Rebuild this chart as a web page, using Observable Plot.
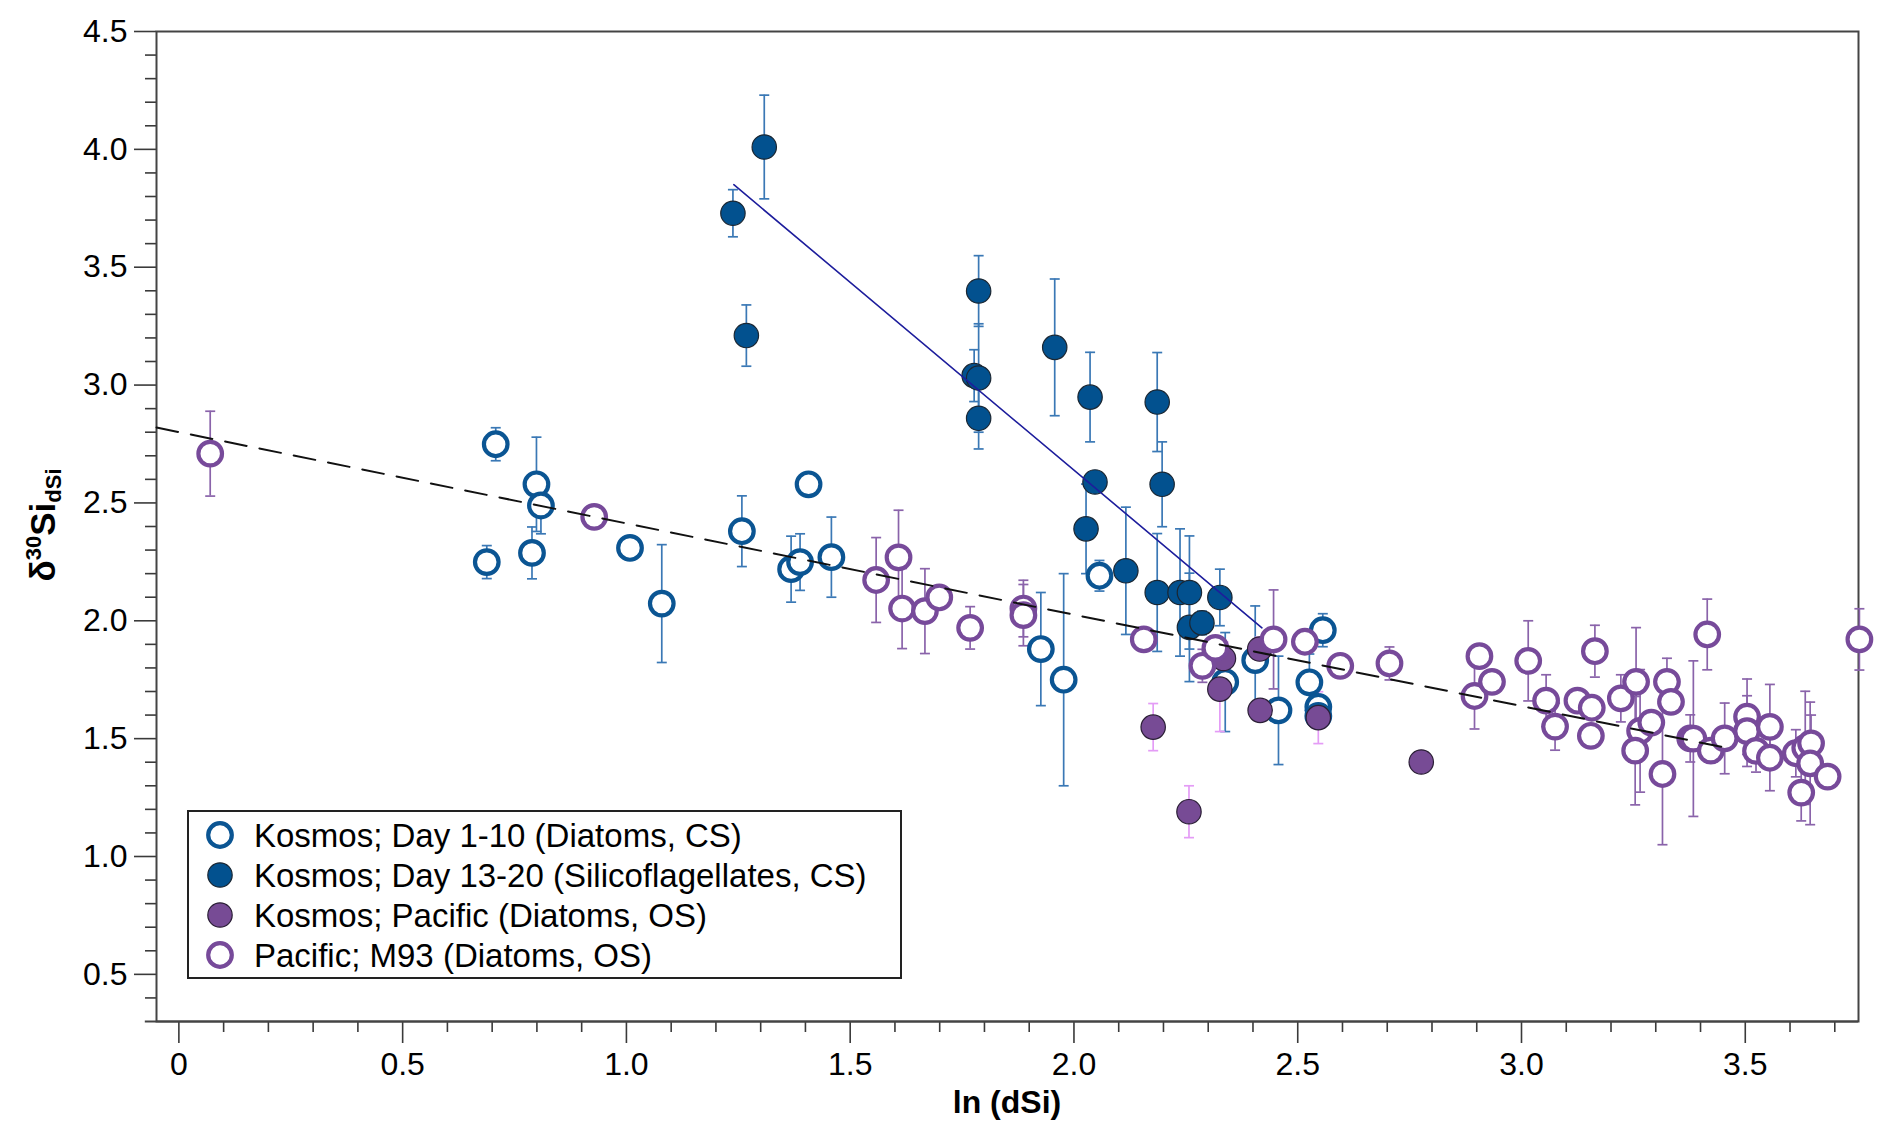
<!DOCTYPE html>
<html><head><meta charset="utf-8">
<script src="https://cdn.jsdelivr.net/npm/d3@7"></script>
<script src="https://cdn.jsdelivr.net/npm/@observablehq/plot@0.6"></script>
<style>
html,body{margin:0;padding:0;background:#fff;}
#chart{position:relative;width:1892px;height:1140px;}
</style></head><body><div id="chart"></div>
<script>
// ---- Data ----
const seriesNames = [
  "Kosmos; Day 1-10 (Diatoms, CS)",
  "Kosmos; Day 13-20 (Silicoflagellates, CS)",
  "Kosmos; Pacific (Diatoms, OS)",
  "Pacific; M93 (Diatoms, OS)"
];

// Kosmos; Day 1-10 (open blue)
const day1X = [0.688,0.708,0.789,0.799,0.809,1.008,1.079,1.258,1.368,1.388,1.407,1.458,1.926,1.977,2.057,2.338,2.405,2.457,2.526,2.546,2.546,2.556];
const day1Y = [2.249,2.749,2.288,2.579,2.489,2.309,2.073,2.380,2.219,2.249,2.579,2.270,1.880,1.750,2.191,1.740,1.833,1.620,1.739,1.635,1.596,1.960];
const day1E = [0.07,0.07,0.11,0.20,0.12,0.05,0.25,0.15,0.14,0.12,0.04,0.17,0.24,0.45,0.065,0.21,0.23,0.23,0.12,0.05,0.05,0.07];

// Kosmos; Day 13-20 (filled blue)
const day13X = [1.238,1.268,1.308,1.777,1.787,1.787,1.787,1.957,2.027,2.036,2.047,2.116,2.186,2.186,2.197,2.237,2.258,2.258,2.286,2.326];
const day13Y = [3.729,3.210,4.010,3.040,3.399,3.030,2.859,3.160,2.390,2.949,2.589,2.212,2.928,2.120,2.579,2.120,2.120,1.972,1.991,2.099];
const day13E = [0.10,0.13,0.22,0.11,0.15,0.23,0.13,0.29,0.19,0.19,0.04,0.27,0.21,0.25,0.18,0.27,0.24,0.23,0.05,0.12];

// Kosmos; Pacific (filled purple)
const kpacX = [2.177,2.257,2.326,2.334,2.415,2.416,2.546,2.776];
const kpacY = [1.549,1.190,1.710,1.840,1.880,1.620,1.589,1.401];
const kpacE = [0.10,0.11,0.18,0.07,0.05,0,0.11,0];

// Pacific; M93 (open purple)
const m93X = [0.070,0.928,1.558,1.608,1.616,1.667,1.699,1.768,1.887,1.887,2.156,2.287,2.316,2.446,2.516,2.595,2.705,
  2.895,2.906,2.934,3.015,3.055,3.075,3.125,3.157,3.155,3.164,3.222,3.256,3.265,3.254,3.290,3.315,3.325,3.334,
  3.377,3.384,3.415,3.423,3.454,3.504,3.504,3.524,3.555,3.555,3.613,3.625,3.634,3.647,3.645,3.684,3.755];
const m93Y = [2.709,2.441,2.173,2.269,2.052,2.041,2.099,1.970,2.052,2.024,1.921,1.809,1.885,1.921,1.911,1.809,1.819,
  1.681,1.850,1.741,1.830,1.661,1.551,1.661,1.631,1.512,1.871,1.671,1.741,1.533,1.449,1.568,1.350,1.741,1.656,
  1.501,1.500,1.942,1.449,1.501,1.593,1.532,1.448,1.550,1.419,1.438,1.271,1.461,1.480,1.395,1.339,1.921];
const m93E = [0.18,0,0.18,0.20,0.17,0.18,0,0.09,0.12,0.13,0,0.07,0,0.21,0,0,0.07,
  0.14,0,0,0.17,0.11,0.10,0,0,0,0.11,0.10,0.23,0.26,0.23,0,0.30,0.10,0,
  0.10,0.33,0.15,0,0.15,0.16,0.15,0.09,0.18,0.14,0.10,0.12,0.24,0.12,0.26,0,0.13];

// Regression lines
const fitBlueX = [1.24, 2.42];
const fitBlueY = [3.85, 1.97];
const fitDashX = [-0.05, 3.46];
const fitDashY = [2.82, 1.46];

// Axis ticks
const xMajor = [0, 0.5, 1.0, 1.5, 2.0, 2.5, 3.0, 3.5];
const yMajor = [0.5, 1.0, 1.5, 2.0, 2.5, 3.0, 3.5, 4.0, 4.5];
const xDomain = [-0.05, 3.753];
const yDomain = [0.3, 4.5];
const xAxisStart = -0.075;

// ---- Build tables ----
const table = (X, Y, E) => X.map((x, i) => ({x, y: Y[i], e: E[i]}));
const day1 = table(day1X, day1Y, day1E);
const day13 = table(day13X, day13Y, day13E);
const kpac = table(kpacX, kpacY, kpacE);
const m93 = table(m93X, m93Y, m93E);
const fitBlue = fitBlueX.map((x, i) => ({x, y: fitBlueY[i]}));
const fitDash = fitDashX.map((x, i) => ({x, y: fitDashY[i]}));

const xMinor = d3.range(1, 38).map(i => i / 10).filter(v => Math.abs(v * 2 - Math.round(v * 2)) > 1e-6);
const yMinor = d3.range(4, 45).map(i => i / 10).filter(v => Math.abs(v * 2 - Math.round(v * 2)) > 1e-6);

const FONT = "'Liberation Sans', Arial, Helvetica, sans-serif";
const fmt = d => d === 0 ? "0" : d.toFixed(1);

const styles = [
  {data: day1, stroke: "#0b5593", fill: "white", sw: 4.2, r: 11.8, err: "#3a78b5"},
  {data: day13, stroke: "#1b2733", fill: "#02518f", sw: 1.2, r: 12.2, err: "#3a78b5"},
  {data: kpac, stroke: "#2b1f36", fill: "#774b95", sw: 1.2, r: 12.2, err: "#e49cf6"},
  {data: m93, stroke: "#774a9a", fill: "white", sw: 4.2, r: 11.8, err: "#8a63aa"}
];

const capSymbol = {draw(ctx, size) { const w = Math.sqrt(size / Math.PI); ctx.moveTo(-w, 0); ctx.lineTo(w, 0); }};

const errMarks = styles.flatMap(s => {
  const d = s.data.filter(p => p.e > 0);
  return [
    Plot.ruleX(d, {x: "x", y1: p => p.y - p.e, y2: p => p.y + p.e, stroke: s.err, strokeWidth: 1.7}),
    Plot.dot(d, {x: "x", y: p => p.y + p.e, symbol: capSymbol, r: 5, stroke: s.err, strokeWidth: 1.7, fill: "none"}),
    Plot.dot(d, {x: "x", y: p => p.y - p.e, symbol: capSymbol, r: 5, stroke: s.err, strokeWidth: 1.7, fill: "none"})
  ];
});

const dotMarks = styles.map(s =>
  Plot.dot(s.data, {x: "x", y: "y", r: s.r, stroke: s.stroke, strokeWidth: s.sw, fill: s.fill})
);

const chart = Plot.plot({
  width: 1892,
  height: 1140,
  marginLeft: 156,
  marginRight: 34,
  marginTop: 31,
  marginBottom: 119,
  style: {fontFamily: FONT, background: "white", color: "#000"},
  x: {domain: xDomain},
  y: {domain: yDomain},
  marks: [
    Plot.axisX({ticks: xMajor, tickSize: 22, tickPadding: 9, tickFormat: fmt, fontSize: 32, stroke: "#3a3a3a", strokeWidth: 1.6, fill: "#000", label: null}),
    Plot.axisX({ticks: xMinor, tickSize: 11, text: null, stroke: "#3a3a3a", strokeWidth: 1.6, label: null}),
    Plot.axisY({ticks: yMajor, tickSize: 22, tickPadding: 7, tickFormat: fmt, fontSize: 32, stroke: "#3a3a3a", strokeWidth: 1.6, fill: "#000", label: null}),
    Plot.axisY({ticks: yMinor, tickSize: 11, text: null, stroke: "#3a3a3a", strokeWidth: 1.6, label: null}),
    Plot.frame({stroke: "#444", strokeWidth: 2}),
    Plot.ruleY([yDomain[0]], {x1: xAxisStart, x2: xDomain[1], stroke: "#444", strokeWidth: 2}),
    ...errMarks,
    ...dotMarks,
    Plot.line(fitBlue, {x: "x", y: "y", stroke: "#1d1d9c", strokeWidth: 1.6}),
    Plot.line(fitDash, {x: "x", y: "y", stroke: "#111", strokeWidth: 2, strokeDasharray: "22 13"})
  ]
});

document.getElementById("chart").appendChild(chart);

// ---- Axis titles and legend (real text, appended to the SVG) ----
const svg = d3.select(chart);

// make sure the tick labels use the reference's larger size
svg.selectAll('g[aria-label$="tick label"]').attr("font-size", 32).style("font-size", "32px");
svg.selectAll('g[aria-label$="tick label"] text').style("font-size", "32px");

svg.append("text")
  .attr("x", 1007).attr("y", 1113)
  .attr("text-anchor", "middle")
  .attr("font-family", FONT).attr("font-weight", "bold").attr("font-size", 32)
  .attr("fill", "#000")
  .text("ln (dSi)");

const yl = svg.append("text")
  .attr("transform", "translate(55,525) rotate(-90)")
  .attr("text-anchor", "middle")
  .attr("font-family", FONT).attr("font-weight", "bold").attr("font-size", 35)
  .attr("fill", "#000");
yl.append("tspan").text("δ");
yl.append("tspan").attr("font-size", 22).attr("dy", -14).text("30");
yl.append("tspan").attr("dy", 14).text("Si");
yl.append("tspan").attr("font-size", 22).attr("dy", 6).text("dSi");

const lg = svg.append("g").attr("font-family", FONT).attr("text-anchor", "start");
lg.append("rect").attr("x", 188).attr("y", 811).attr("width", 713).attr("height", 167)
  .attr("fill", "white").attr("stroke", "#222").attr("stroke-width", 2);
styles.forEach((s, i) => {
  const cy = 835 + i * 40;
  lg.append("circle").attr("cx", 220).attr("cy", cy).attr("r", s.r)
    .attr("fill", s.fill).attr("stroke", s.stroke).attr("stroke-width", s.sw);
  lg.append("text").attr("x", 254).attr("y", cy).attr("dy", "0.36em")
    .attr("text-anchor", "start")
    .attr("font-size", 33).attr("fill", "#000").text(seriesNames[i]);
});
</script>
</body></html>
